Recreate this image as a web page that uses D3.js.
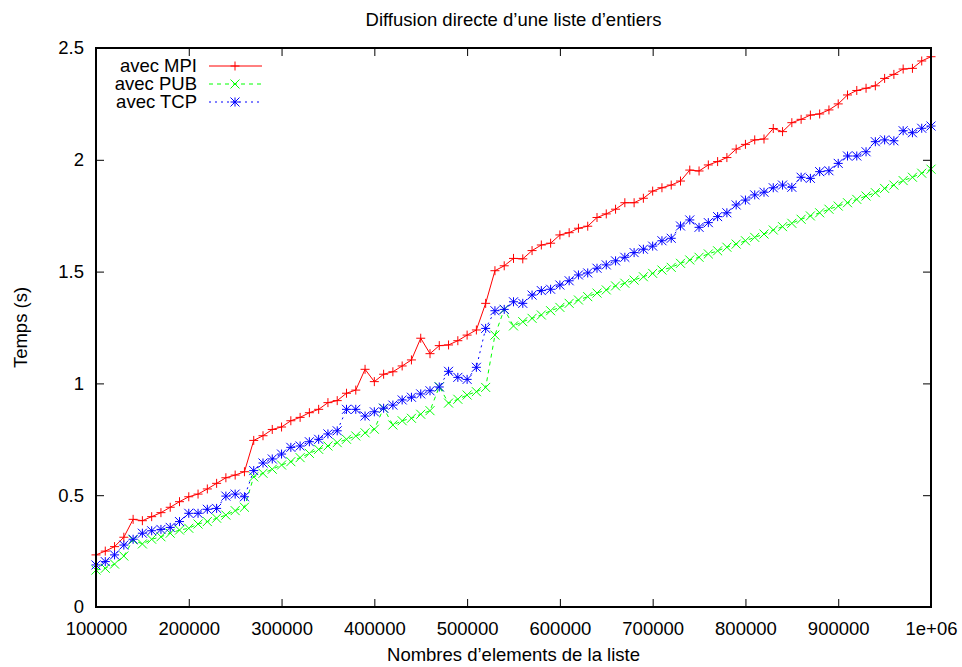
<!DOCTYPE html>
<html>
<head>
<meta charset="utf-8">
<script src="https://cdn.jsdelivr.net/npm/d3@7"></script>
<style>
  body { margin: 0; background: #fff; }
  svg { font-family: "Liberation Sans", Arial, Helvetica, sans-serif; }
</style>
</head>
<body>
<div id="chart"></div>
<script>
// list sizes (number of integers)
const sizes = [
  100000, 110000, 120000, 130000, 140000, 150000, 160000, 170000, 180000, 190000,
  200000, 210000, 220000, 230000, 240000, 250000, 260000, 270000, 280000, 290000,
  300000, 310000, 320000, 330000, 340000, 350000, 360000, 370000, 380000, 390000,
  400000, 410000, 420000, 430000, 440000, 450000, 460000, 470000, 480000, 490000,
  500000, 510000, 520000, 530000, 540000, 550000, 560000, 570000, 580000, 590000,
  600000, 610000, 620000, 630000, 640000, 650000, 660000, 670000, 680000, 690000,
  700000, 710000, 720000, 730000, 740000, 750000, 760000, 770000, 780000, 790000,
  800000, 810000, 820000, 830000, 840000, 850000, 860000, 870000, 880000, 890000,
  900000, 910000, 920000, 930000, 940000, 950000, 960000, 970000, 980000, 990000,
  1000000
];

const mpiTimes = [
  0.233, 0.250, 0.270, 0.312, 0.392, 0.386, 0.404, 0.422, 0.446, 0.471,
  0.493, 0.505, 0.528, 0.553, 0.578, 0.590, 0.605, 0.745, 0.766, 0.794,
  0.805, 0.833, 0.848, 0.869, 0.884, 0.914, 0.923, 0.956, 0.970, 1.063,
  1.008, 1.041, 1.052, 1.078, 1.105, 1.202, 1.133, 1.169, 1.172, 1.191,
  1.216, 1.239, 1.358, 1.504, 1.526, 1.559, 1.557, 1.594, 1.619, 1.627,
  1.664, 1.674, 1.694, 1.703, 1.742, 1.758, 1.779, 1.808, 1.808, 1.828,
  1.860, 1.875, 1.887, 1.905, 1.954, 1.950, 1.977, 1.992, 2.010, 2.048,
  2.069, 2.089, 2.093, 2.140, 2.126, 2.166, 2.181, 2.200, 2.205, 2.223,
  2.250, 2.290, 2.310, 2.320, 2.331, 2.364, 2.382, 2.406, 2.409, 2.442,
  2.461
];

const pubTimes = [
  0.165, 0.173, 0.192, 0.228, 0.300, 0.282, 0.303, 0.314, 0.330, 0.344,
  0.352, 0.371, 0.382, 0.397, 0.411, 0.431, 0.446, 0.582, 0.598, 0.616,
  0.635, 0.650, 0.668, 0.687, 0.705, 0.720, 0.735, 0.750, 0.765, 0.779,
  0.795, 0.889, 0.814, 0.833, 0.844, 0.862, 0.878, 0.985, 0.912, 0.929,
  0.948, 0.963, 0.982, 1.216, 1.331, 1.257, 1.276, 1.291, 1.306, 1.325,
  1.340, 1.358, 1.373, 1.388, 1.404, 1.418, 1.436, 1.448, 1.462, 1.477,
  1.492, 1.507, 1.519, 1.537, 1.552, 1.564, 1.579, 1.593, 1.609, 1.623,
  1.638, 1.653, 1.668, 1.686, 1.701, 1.716, 1.734, 1.749, 1.763, 1.779,
  1.793, 1.808, 1.823, 1.838, 1.853, 1.872, 1.887, 1.907, 1.922, 1.940,
  1.958
];

const tcpTimes = [
  0.188, 0.203, 0.233, 0.277, 0.303, 0.330, 0.341, 0.347, 0.356, 0.382,
  0.419, 0.419, 0.437, 0.441, 0.496, 0.505, 0.493, 0.610, 0.644, 0.662,
  0.684, 0.714, 0.720, 0.739, 0.750, 0.774, 0.788, 0.884, 0.884, 0.854,
  0.873, 0.889, 0.903, 0.926, 0.938, 0.953, 0.967, 0.984, 1.054, 1.027,
  1.018, 1.072, 1.246, 1.325, 1.331, 1.365, 1.358, 1.395, 1.415, 1.421,
  1.440, 1.459, 1.485, 1.494, 1.515, 1.530, 1.548, 1.564, 1.585, 1.600,
  1.614, 1.638, 1.649, 1.704, 1.731, 1.698, 1.719, 1.746, 1.763, 1.798,
  1.820, 1.843, 1.855, 1.875, 1.887, 1.877, 1.922, 1.917, 1.947, 1.951,
  1.984, 2.017, 2.017, 2.036, 2.081, 2.089, 2.085, 2.130, 2.121, 2.141,
  2.151
];

const xTicks = [100000, 200000, 300000, 400000, 500000, 600000, 700000, 800000, 900000, 1000000];
const xTickLabels = ['100000', '200000', '300000', '400000', '500000', '600000', '700000', '800000', '900000', '1e+06'];
const yTicks = [0, 0.5, 1, 1.5, 2, 2.5];
const yTickLabels = ['0', '0.5', '1', '1.5', '2', '2.5'];

const seriesNames = ['avec MPI', 'avec PUB', 'avec TCP'];

const width = 962;
const height = 667;
const margin = { top: 48, right: 31, bottom: 60, left: 96 };
const innerW = width - margin.left - margin.right;
const innerH = height - margin.top - margin.bottom;

const series = [
  { name: seriesNames[0], values: mpiTimes, color: '#ff0000', dash: null, marker: 'plus' },
  { name: seriesNames[1], values: pubTimes, color: '#00ff00', dash: '4,4', marker: 'cross' },
  { name: seriesNames[2], values: tcpTimes, color: '#0000ff', dash: '2,4', marker: 'star' }
];

const svg = d3.select('#chart').append('svg')
  .attr('width', width)
  .attr('height', height);

const g = svg.append('g')
  .attr('transform', `translate(${margin.left},${margin.top})`);

const x = d3.scaleLinear().domain([100000, 1000000]).range([0, innerW]);
const y = d3.scaleLinear().domain([0, 2.5]).range([innerH, 0]);

// gnuplot style marker paths
function markerPath(type, s) {
  const plus = `M${-s},0H${s}M0,${-s}V${s}`;
  const cross = `M${-s},${-s}L${s},${s}M${-s},${s}L${s},${-s}`;
  if (type === 'plus') return plus;
  if (type === 'cross') return cross;
  return plus + cross;
}

// axes: ticks inward, mirrored on the opposite side
const tickLen = 8;
const fontSize = 18.5;

const xAxis = d3.axisBottom(x)
  .tickValues(xTicks)
  .tickSize(-tickLen)
  .tickPadding(15)
  .tickFormat((d, i) => xTickLabels[i]);

const xAxisTop = d3.axisTop(x).tickValues(xTicks).tickSize(-tickLen).tickFormat('');

const yAxis = d3.axisLeft(y)
  .tickValues(yTicks)
  .tickSize(-tickLen)
  .tickPadding(12)
  .tickFormat((d, i) => yTickLabels[i]);

const yAxisRight = d3.axisRight(y).tickValues(yTicks).tickSize(-tickLen).tickFormat('');

function styleAxis(sel) {
  sel.select('.domain').remove();
  sel.selectAll('.tick line').attr('stroke', '#000').attr('stroke-width', 1);
  sel.selectAll('.tick text').attr('fill', '#000').style('font-size', fontSize + 'px');
}

g.append('g').attr('transform', `translate(0,${innerH})`).call(xAxis).call(styleAxis)
  .selectAll('.tick text').attr('dy', '0.71em');
g.append('g').call(xAxisTop).call(styleAxis);
g.append('g').call(yAxis).call(styleAxis);
g.append('g').attr('transform', `translate(${innerW},0)`).call(yAxisRight).call(styleAxis);

// lines
const line = d3.line()
  .x((d, i) => x(sizes[i]))
  .y(d => y(d));

series.forEach(s => {
  g.append('path')
    .datum(s.values)
    .attr('fill', 'none')
    .attr('stroke', s.color)
    .attr('stroke-width', 1)
    .attr('stroke-dasharray', s.dash)
    .attr('d', line);

  g.append('g').selectAll('path')
    .data(s.values)
    .join('path')
    .attr('transform', (d, i) => `translate(${x(sizes[i])},${y(d)})`)
    .attr('d', markerPath(s.marker, 4.5))
    .attr('stroke', s.color)
    .attr('stroke-width', 1)
    .attr('fill', 'none');
});

// border box
g.append('rect')
  .attr('width', innerW)
  .attr('height', innerH)
  .attr('fill', 'none')
  .attr('stroke', '#000')
  .attr('stroke-width', 2);

// legend
const legend = g.append('g').attr('transform', 'translate(0,18)');
series.forEach((s, i) => {
  const ly = i * 18;
  legend.append('text')
    .attr('x', 101)
    .attr('y', ly)
    .attr('dy', '0.35em')
    .attr('text-anchor', 'end')
    .style('font-size', fontSize + 'px')
    .text(s.name);
  legend.append('line')
    .attr('x1', 113).attr('x2', 166)
    .attr('y1', ly).attr('y2', ly)
    .attr('stroke', s.color)
    .attr('stroke-dasharray', s.dash);
  legend.append('path')
    .attr('transform', `translate(139,${ly})`)
    .attr('d', markerPath(s.marker, 4.5))
    .attr('stroke', s.color)
    .attr('fill', 'none');
});

// title and axis labels
svg.append('text')
  .attr('x', margin.left + innerW / 2)
  .attr('y', 20)
  .attr('dy', '0.35em')
  .attr('text-anchor', 'middle')
  .style('font-size', fontSize + 'px')
  .text('Diffusion directe d’une liste d’entiers');

svg.append('text')
  .attr('x', margin.left + innerW / 2)
  .attr('y', 655)
  .attr('dy', '0.35em')
  .attr('text-anchor', 'middle')
  .style('font-size', fontSize + 'px')
  .text('Nombres d’elements de la liste');

svg.append('text')
  .attr('transform', `translate(21,${margin.top + innerH / 2}) rotate(-90)`)
  .attr('dy', '0.35em')
  .attr('text-anchor', 'middle')
  .style('font-size', fontSize + 'px')
  .text('Temps (s)');
</script>
</body>
</html>
